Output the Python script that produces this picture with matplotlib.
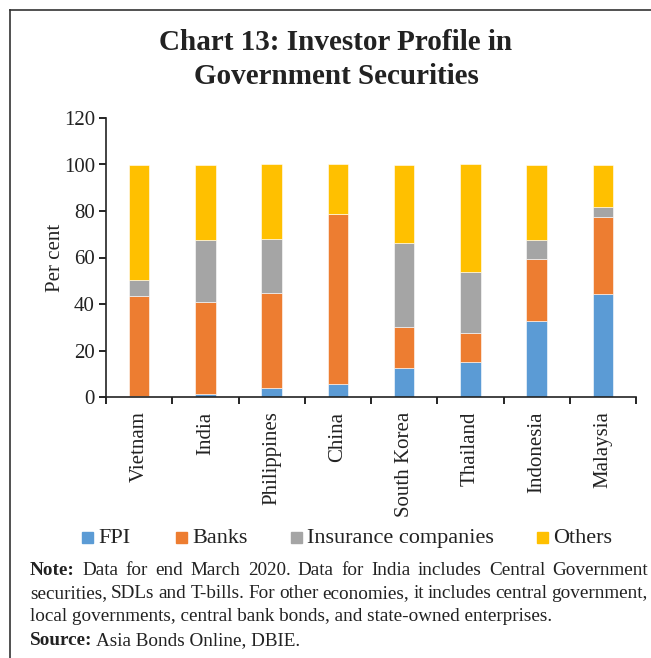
import matplotlib
matplotlib.use("Agg")
import matplotlib.pyplot as plt
import numpy as np
from matplotlib.lines import Line2D
from matplotlib.patches import Rectangle

countries = ["Vietnam", "India", "Philippines", "China", "South Korea", "Thailand", "Indonesia", "Malaysia"]
fpi = [0.6, 1.3, 3.7, 5.7, 12.6, 15.1, 32.5, 44.1]
banks = [42.7, 39.7, 41.2, 73.1, 17.6, 12.6, 27.0, 33.4]
insurance = [7.0, 26.5, 23.0, 0.0, 36.1, 26.0, 8.1, 4.2]
others = [49.7, 32.5, 32.1, 21.2, 33.7, 46.3, 32.4, 18.3]
series_names = ["FPI", "Banks", "Insurance companies", "Others"]
colors = ["#5B9BD5", "#ED7D31", "#A5A5A5", "#FFC000"]
yticks = [0, 20, 40, 60, 80, 100, 120]

W, H = 651, 658
fig = plt.figure(figsize=(W / 100, H / 100), dpi=100)
serif = "Liberation Serif"
plt.rcParams["font.family"] = serif

ax = fig.add_axes([106 / W, (H - 397) / H, (636 - 106) / W, (397 - 118) / H])
x = np.arange(len(countries))
bottom = np.zeros(len(countries))
for vals, name, c in zip([fpi, banks, insurance, others], series_names, colors):
    ax.bar(x, vals, width=0.31, bottom=bottom, color=c, edgecolor="white", linewidth=0.4, label=name)
    bottom += np.array(vals)

ax.set_xlim(-0.5, len(countries) - 0.5)
ax.set_ylim(0, 120)
ax.set_yticks(yticks)
ax.set_yticklabels([str(v) for v in yticks], fontsize=15, color="#222222")
ax.set_xticks(np.arange(len(countries) + 1) - 0.5)
ax.set_xticklabels([])
ax.set_xticks(x, minor=True)
ax.set_xticklabels(countries, minor=True, rotation=90, fontsize=15, color="#222222", va="top")
ax.tick_params(axis="x", which="minor", length=0, pad=10.5)
ax.tick_params(axis="x", which="major", length=5, width=1.2, direction="out")
ax.tick_params(axis="y", length=5, width=1.2, direction="out", pad=3)
for s in ["top", "right"]:
    ax.spines[s].set_visible(False)
for s in ["left", "bottom"]:
    ax.spines[s].set_linewidth(1.2)
    ax.spines[s].set_color("#222222")
ax.set_ylabel("Per cent", fontsize=15, color="#222222", labelpad=-1)

fig.text(336 / W, 1 - 43 / H, "Chart 13: Investor Profile in", ha="center", va="center",
         fontsize=21, fontweight="bold", color="#222222")
fig.text(336 / W, 1 - 76 / H, "Government Securities", ha="center", va="center",
         fontsize=21, fontweight="bold", color="#222222")

# legend
leg_y = 537
leg_x = [82, 176, 291, 537]
for lx, name, c in zip(leg_x, series_names, colors):
    fig.patches.append(Rectangle((lx / W, 1 - (leg_y + 5.5) / H), 11 / W, 11 / H,
                                 transform=fig.transFigure, color=c))
    fig.text((lx + 16) / W, 1 - 543 / H, name, ha="left", va="baseline", fontsize=16, color="#222222")

# borders
fig.add_artist(Line2D([10 / W, 1.0], [1 - 10 / H, 1 - 10 / H], transform=fig.transFigure, color="#333333", lw=1.2))
fig.add_artist(Line2D([10 / W, 10 / W], [1 - 10 / H, 0.0], transform=fig.transFigure, color="#333333", lw=1.2))

# notes
fs = 13.8
renderer = fig.canvas.get_renderer()

def justified(words_runs, y, x0, x1):
    texts = []
    for t, w in words_runs:
        texts.append(fig.text(0, 1 - y / H, t, fontsize=fs, fontweight=w, va="baseline", ha="left", color="#222222"))
    widths = [tt.get_window_extent(renderer).width for tt in texts]
    gap = ((x1 - x0) - sum(widths)) / (len(texts) - 1)
    pos = x0
    for tt, wd in zip(texts, widths):
        tt.set_x(pos / W)
        pos += wd + gap

line1 = [("Note:", "bold")] + [(w, "normal") for w in "Data for end March 2020. Data for India includes Central Government".split()]
justified(line1, 575, 30, 648)
line2 = [(w, "normal") for w in "securities, SDLs and T-bills. For other economies, it includes central government,".split()]
justified(line2, 598, 30, 648)
fig.text(30 / W, 1 - 621 / H, "local governments, central bank bonds, and state-owned enterprises.", fontsize=fs,
         va="baseline", ha="left", color="#222222")
t = fig.text(30 / W, 1 - 645 / H, "Source:", fontsize=fs, fontweight="bold", va="baseline", ha="left", color="#222222")
wsrc = t.get_window_extent(renderer).width
fig.text((30 + wsrc + 4) / W, 1 - 645 / H, "Asia Bonds Online, DBIE.", fontsize=fs, va="baseline", ha="left", color="#222222")

fig.savefig("out.png", dpi=100)
